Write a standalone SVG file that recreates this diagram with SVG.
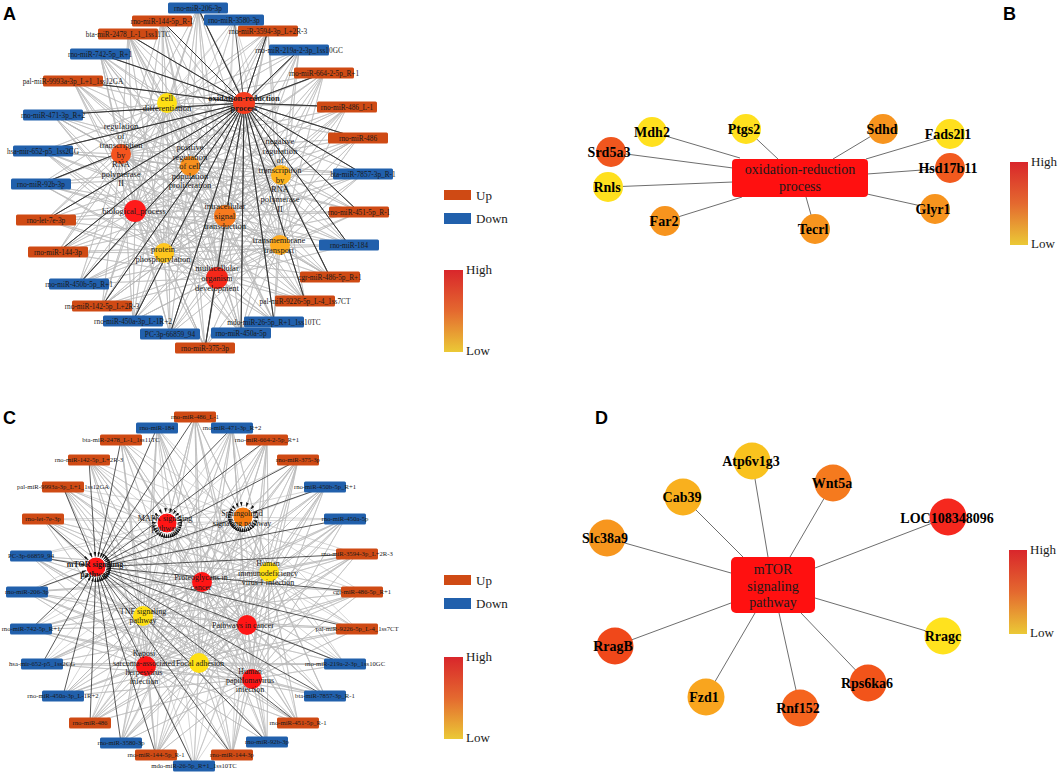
<svg xmlns="http://www.w3.org/2000/svg" width="1059" height="777" viewBox="0 0 1059 777">
<defs>
<linearGradient id="grad" x1="0" y1="0" x2="0" y2="1">
<stop offset="0" stop-color="#D9262B"/><stop offset=".5" stop-color="#E4692F"/><stop offset="1" stop-color="#EBC936"/>
</linearGradient>
<marker id="arr" viewBox="0 0 15 2.6" markerWidth="15" markerHeight="2.6" refX="15" refY="1.3" orient="auto" markerUnits="userSpaceOnUse"><path d="M0 0L4.5 1.3L0 2.6z" fill="#111"/></marker>
</defs>
<style>
text{font-family:"Liberation Serif","Times New Roman",serif;fill:#1a1a1a}
.lt{font-family:"Liberation Sans",Arial,sans-serif;font-weight:bold;font-size:18px;fill:#000}
.up{fill:#CF4A14}.dn{fill:#2160AC}
.ma text{font-size:7.3px;text-anchor:middle}
.mc text{font-size:6.7px;text-anchor:middle}
.ga text{font-size:8.5px;text-anchor:middle}
.gc text{font-size:8px;text-anchor:middle}
.gl{fill:none;stroke:#B8B8B8;stroke-width:.6;stroke-linejoin:round}
.dl{fill:none;stroke:#2d2d2d;stroke-width:.8;stroke-linejoin:round}
.ak{fill:none;stroke:#2d2d2d;stroke-width:.8;marker-end:url(#arr)}
.ag{fill:none;stroke:#B8B8B8;stroke-width:.6;marker-end:url(#arr)}
.ge{fill:none;stroke:#6e6e6e;stroke-width:1}
.gn text{font-weight:bold;font-size:14px;text-anchor:middle;fill:#000}
.lg{font-size:13px}
</style>
<rect width="1059" height="777" fill="#fff"/>
<text class="lt" x="3" y="20">A</text>
<text class="lt" x="1003" y="20">B</text>
<text class="lt" x="3" y="424">C</text>
<text class="lt" x="595" y="424">D</text>

<g id="connectors">
<!-- Panel A gray mesh -->
<path class="gl" d="M167 103L198 8 167 103 162 21 167 103 128 34 167 103 100 54 167 103 73 81 167 103 53 115 167 103 43 151 167 103 41 184 167 103 46 220 167 103 58 252 167 103 79 284 167 103 102 306 167 103 133 321 167 103 170 334 167 103 205 348 167 103 241 333 167 103 274 322 167 103 305 301 167 103 330 277 167 103 349 245 167 103 359 212 167 103 363 174 167 103 358 138 167 103 347 107 167 103 324 73 167 103 299 50 167 103 268 31 167 103 234 20"/>
<path class="gl" d="M121 154L198 8 121 154 162 21 121 154 128 34 121 154 100 54 121 154 73 81 121 154 53 115 121 154 43 151 121 154 41 184 121 154 46 220 121 154 58 252 121 154 79 284 121 154 102 306 121 154 133 321 121 154 170 334 121 154 205 348 121 154 241 333 121 154 274 322 121 154 305 301 121 154 330 277 121 154 349 245 121 154 359 212 121 154 363 174 121 154 358 138 121 154 347 107 121 154 324 73 121 154 299 50 121 154 268 31 121 154 234 20"/>
<path class="gl" d="M190 166L198 8 190 166 162 21 190 166 128 34 190 166 100 54 190 166 73 81 190 166 53 115 190 166 43 151 190 166 41 184 190 166 46 220 190 166 58 252 190 166 79 284 190 166 102 306 190 166 133 321 190 166 170 334 190 166 205 348 190 166 241 333 190 166 274 322 190 166 305 301 190 166 330 277 190 166 349 245 190 166 359 212 190 166 363 174 190 166 358 138 190 166 347 107 190 166 324 73 190 166 299 50 190 166 268 31 190 166 234 20"/>
<path class="gl" d="M135 211L198 8 135 211 162 21 135 211 128 34 135 211 100 54 135 211 73 81 135 211 53 115 135 211 43 151 135 211 41 184 135 211 46 220 135 211 58 252 135 211 79 284 135 211 102 306 135 211 133 321 135 211 170 334 135 211 205 348 135 211 241 333 135 211 274 322 135 211 305 301 135 211 330 277 135 211 349 245 135 211 359 212 135 211 363 174 135 211 358 138 135 211 347 107 135 211 324 73 135 211 299 50 135 211 268 31 135 211 234 20"/>
<path class="gl" d="M164 253L198 8 164 253 162 21 164 253 128 34 164 253 100 54 164 253 73 81 164 253 53 115 164 253 43 151 164 253 41 184 164 253 46 220 164 253 58 252 164 253 79 284 164 253 102 306 164 253 133 321 164 253 170 334 164 253 205 348 164 253 241 333 164 253 274 322 164 253 305 301 164 253 330 277 164 253 349 245 164 253 359 212 164 253 363 174 164 253 358 138 164 253 347 107 164 253 324 73 164 253 299 50 164 253 268 31 164 253 234 20"/>
<path class="gl" d="M225 216L198 8 225 216 162 21 225 216 128 34 225 216 100 54 225 216 73 81 225 216 53 115 225 216 43 151 225 216 41 184 225 216 46 220 225 216 58 252 225 216 79 284 225 216 102 306 225 216 133 321 225 216 170 334 225 216 205 348 225 216 241 333 225 216 274 322 225 216 305 301 225 216 330 277 225 216 349 245 225 216 359 212 225 216 363 174 225 216 358 138 225 216 347 107 225 216 324 73 225 216 299 50 225 216 268 31 225 216 234 20"/>
<path class="gl" d="M217 278L198 8 217 278 162 21 217 278 128 34 217 278 100 54 217 278 73 81 217 278 53 115 217 278 43 151 217 278 41 184 217 278 46 220 217 278 58 252 217 278 79 284 217 278 102 306 217 278 133 321 217 278 170 334 217 278 205 348 217 278 241 333 217 278 274 322 217 278 305 301 217 278 330 277 217 278 349 245 217 278 359 212 217 278 363 174 217 278 358 138 217 278 347 107 217 278 324 73 217 278 299 50 217 278 268 31 217 278 234 20"/>
<path class="gl" d="M280 245L198 8 280 245 162 21 280 245 128 34 280 245 100 54 280 245 73 81 280 245 53 115 280 245 43 151 280 245 41 184 280 245 46 220 280 245 58 252 280 245 79 284 280 245 102 306 280 245 133 321 280 245 170 334 280 245 205 348 280 245 241 333 280 245 274 322 280 245 305 301 280 245 330 277 280 245 349 245 280 245 359 212 280 245 363 174 280 245 358 138 280 245 347 107 280 245 324 73 280 245 299 50 280 245 268 31 280 245 234 20"/>
<path class="gl" d="M281 175L198 8 281 175 162 21 281 175 128 34 281 175 100 54 281 175 73 81 281 175 53 115 281 175 43 151 281 175 41 184 281 175 46 220 281 175 58 252 281 175 79 284 281 175 102 306 281 175 133 321 281 175 170 334 281 175 205 348 281 175 241 333 281 175 274 322 281 175 305 301 281 175 330 277 281 175 349 245 281 175 359 212 281 175 363 174 281 175 358 138 281 175 347 107 281 175 324 73 281 175 299 50 281 175 268 31 281 175 234 20"/>
<!-- Panel A dark edges to oxidation-reduction process -->
<path class="dl" d="M244 103L198 8 244 103 162 21 244 103 128 34 244 103 100 54 244 103 73 81 244 103 53 115 244 103 43 151 244 103 41 184 244 103 46 220 244 103 58 252 244 103 79 284 244 103 102 306 244 103 133 321 244 103 170 334 244 103 205 348 244 103 241 333 244 103 274 322 244 103 305 301 244 103 330 277 244 103 349 245 244 103 359 212 244 103 363 174 244 103 358 138 244 103 347 107 244 103 324 73 244 103 299 50 244 103 268 31 244 103 234 20"/>
<!-- Panel C gray mesh -->
<path class="gl" d="M202 582L195 417 202 582 157 428 202 582 232 428 202 582 121 440 202 582 267 440 202 582 89 460 202 582 298 460 202 582 63 487 202 582 325 487 202 582 43 519 202 582 345 519 202 582 31 556 202 582 357 554 202 582 27 592 202 582 362 592 202 582 31 629 202 582 357 629 202 582 42 664 202 582 345 664 202 582 63 696 202 582 325 696 202 582 90 723 202 582 298 723 202 582 121 743 202 582 267 742 202 582 156 755 202 582 232 755 202 582 194 766"/>
<path class="gl" d="M269 572L195 417 269 572 157 428 269 572 232 428 269 572 121 440 269 572 267 440 269 572 89 460 269 572 298 460 269 572 63 487 269 572 325 487 269 572 43 519 269 572 345 519 269 572 31 556 269 572 357 554 269 572 27 592 269 572 362 592 269 572 31 629 269 572 357 629 269 572 42 664 269 572 345 664 269 572 63 696 269 572 325 696 269 572 90 723 269 572 298 723 269 572 121 743 269 572 267 742 269 572 156 755 269 572 232 755 269 572 194 766"/>
<path class="gl" d="M143 616L195 417 143 616 157 428 143 616 232 428 143 616 121 440 143 616 267 440 143 616 89 460 143 616 298 460 143 616 63 487 143 616 325 487 143 616 43 519 143 616 345 519 143 616 31 556 143 616 357 554 143 616 27 592 143 616 362 592 143 616 31 629 143 616 357 629 143 616 42 664 143 616 345 664 143 616 63 696 143 616 325 696 143 616 90 723 143 616 298 723 143 616 121 743 143 616 267 742 143 616 156 755 143 616 232 755 143 616 194 766"/>
<path class="gl" d="M247 625L195 417 247 625 157 428 247 625 232 428 247 625 121 440 247 625 267 440 247 625 89 460 247 625 298 460 247 625 63 487 247 625 325 487 247 625 43 519 247 625 345 519 247 625 31 556 247 625 357 554 247 625 27 592 247 625 362 592 247 625 31 629 247 625 357 629 247 625 42 664 247 625 345 664 247 625 63 696 247 625 325 696 247 625 90 723 247 625 298 723 247 625 121 743 247 625 267 742 247 625 156 755 247 625 232 755 247 625 194 766"/>
<path class="gl" d="M146 666L195 417 146 666 157 428 146 666 232 428 146 666 121 440 146 666 267 440 146 666 89 460 146 666 298 460 146 666 63 487 146 666 325 487 146 666 43 519 146 666 345 519 146 666 31 556 146 666 357 554 146 666 27 592 146 666 362 592 146 666 31 629 146 666 357 629 146 666 42 664 146 666 345 664 146 666 63 696 146 666 325 696 146 666 90 723 146 666 298 723 146 666 121 743 146 666 267 742 146 666 156 755 146 666 232 755 146 666 194 766"/>
<path class="gl" d="M199 663L195 417 199 663 157 428 199 663 232 428 199 663 121 440 199 663 267 440 199 663 89 460 199 663 298 460 199 663 63 487 199 663 325 487 199 663 43 519 199 663 345 519 199 663 31 556 199 663 357 554 199 663 27 592 199 663 362 592 199 663 31 629 199 663 357 629 199 663 42 664 199 663 345 664 199 663 63 696 199 663 325 696 199 663 90 723 199 663 298 723 199 663 121 743 199 663 267 742 199 663 156 755 199 663 232 755 199 663 194 766"/>
<path class="gl" d="M252 679L195 417 252 679 157 428 252 679 232 428 252 679 121 440 252 679 267 440 252 679 89 460 252 679 298 460 252 679 63 487 252 679 325 487 252 679 43 519 252 679 345 519 252 679 31 556 252 679 357 554 252 679 27 592 252 679 362 592 252 679 31 629 252 679 357 629 252 679 42 664 252 679 345 664 252 679 63 696 252 679 325 696 252 679 90 723 252 679 298 723 252 679 121 743 252 679 267 742 252 679 156 755 252 679 232 755 252 679 194 766"/>
<!-- Panel C arrowed gray edges to MAPK -->
<g class="ag">
<path d="M195 417L167 523"/><path d="M157 428L167 523"/><path d="M232 428L167 523"/><path d="M121 440L167 523"/><path d="M267 440L167 523"/><path d="M89 460L167 523"/><path d="M298 460L167 523"/><path d="M63 487L167 523"/><path d="M325 487L167 523"/><path d="M43 519L167 523"/><path d="M345 519L167 523"/><path d="M31 556L167 523"/><path d="M357 554L167 523"/><path d="M27 592L167 523"/><path d="M362 592L167 523"/><path d="M31 629L167 523"/><path d="M357 629L167 523"/><path d="M42 664L167 523"/><path d="M345 664L167 523"/><path d="M63 696L167 523"/><path d="M325 696L167 523"/><path d="M90 723L167 523"/><path d="M298 723L167 523"/><path d="M121 743L167 523"/><path d="M267 742L167 523"/><path d="M156 755L167 523"/><path d="M232 755L167 523"/><path d="M194 766L167 523"/>
</g>
<!-- Panel C arrowed gray edges to Sphingolipid -->
<g class="ag">
<path d="M195 417L243 517"/><path d="M157 428L243 517"/><path d="M232 428L243 517"/><path d="M121 440L243 517"/><path d="M267 440L243 517"/><path d="M89 460L243 517"/><path d="M298 460L243 517"/><path d="M63 487L243 517"/><path d="M325 487L243 517"/><path d="M43 519L243 517"/><path d="M345 519L243 517"/><path d="M31 556L243 517"/><path d="M357 554L243 517"/><path d="M27 592L243 517"/><path d="M362 592L243 517"/><path d="M31 629L243 517"/><path d="M357 629L243 517"/><path d="M42 664L243 517"/><path d="M345 664L243 517"/><path d="M63 696L243 517"/><path d="M325 696L243 517"/><path d="M90 723L243 517"/><path d="M298 723L243 517"/><path d="M121 743L243 517"/><path d="M267 742L243 517"/><path d="M156 755L243 517"/><path d="M232 755L243 517"/><path d="M194 766L243 517"/>
</g>
<!-- Panel C dark arrowed edges to mTOR -->
<g class="ak">
<path d="M195 417L96 567"/><path d="M157 428L96 567"/><path d="M232 428L96 567"/><path d="M121 440L96 567"/><path d="M267 440L96 567"/><path d="M89 460L96 567"/><path d="M298 460L96 567"/><path d="M63 487L96 567"/><path d="M325 487L96 567"/><path d="M43 519L96 567"/><path d="M345 519L96 567"/><path d="M31 556L96 567"/><path d="M357 554L96 567"/><path d="M27 592L96 567"/><path d="M362 592L96 567"/><path d="M31 629L96 567"/><path d="M357 629L96 567"/><path d="M42 664L96 567"/><path d="M345 664L96 567"/><path d="M63 696L96 567"/><path d="M325 696L96 567"/><path d="M90 723L96 567"/><path d="M298 723L96 567"/><path d="M121 743L96 567"/><path d="M267 742L96 567"/><path d="M156 755L96 567"/><path d="M232 755L96 567"/><path d="M194 766L96 567"/>
</g>
<!-- Panel B edges -->
<path class="ge" d="M652 132L740 158M611 152L733 168M608 187L733 182M665 221L742 197M746 129L778 159M815 229L806 197M883 129L833 159M950 134L866 159M950 168L867 174M935 209L867 194"/>
<!-- Panel D edges -->
<path class="ge" d="M752 461L768 557M833 483L790 557M683 497L743 557M948 517L815 568M607 538L731 573M615 646L731 603M706 697L755 613M800 708L779 613M868 683L801 613M943 636L815 598"/>
</g>

<!-- Panel A miRNA nodes -->
<g id="a-m1" class="ma" transform="translate(198 8)"><rect class="dn" x="-30" y="-5.5" width="60" height="11" rx="1.5"/><text y="2.5">rno-miR-206-3p</text></g>
<g id="a-m2" class="ma" transform="translate(162 21)"><rect class="up" x="-30" y="-5.5" width="60" height="11" rx="1.5"/><text y="2.5">rno-miR-144-5p_R-1</text></g>
<g id="a-m3" class="ma" transform="translate(128 34)"><rect class="up" x="-30" y="-5.5" width="60" height="11" rx="1.5"/><text y="2.5">bta-miR-2478_L-1_1ss11TC</text></g>
<g id="a-m4" class="ma" transform="translate(100 54)"><rect class="dn" x="-30" y="-5.5" width="60" height="11" rx="1.5"/><text y="2.5">rno-miR-742-5p_R+1</text></g>
<g id="a-m5" class="ma" transform="translate(73 81)"><rect class="up" x="-30" y="-5.5" width="60" height="11" rx="1.5"/><text y="2.5">pal-miR-9993a-3p_L+1_1ss12GA</text></g>
<g id="a-m6" class="ma" transform="translate(53 115)"><rect class="dn" x="-30" y="-5.5" width="60" height="11" rx="1.5"/><text y="2.5">rno-miR-471-3p_R+2</text></g>
<g id="a-m7" class="ma" transform="translate(43 151)"><rect class="dn" x="-30" y="-5.5" width="60" height="11" rx="1.5"/><text y="2.5">hsa-mir-652-p5_1ss2CG</text></g>
<g id="a-m8" class="ma" transform="translate(41 184)"><rect class="dn" x="-30" y="-5.5" width="60" height="11" rx="1.5"/><text y="2.5">rno-miR-92b-3p</text></g>
<g id="a-m9" class="ma" transform="translate(46 220)"><rect class="up" x="-30" y="-5.5" width="60" height="11" rx="1.5"/><text y="2.5">rno-let-7e-3p</text></g>
<g id="a-m10" class="ma" transform="translate(58 252)"><rect class="up" x="-30" y="-5.5" width="60" height="11" rx="1.5"/><text y="2.5">rno-miR-144-3p</text></g>
<g id="a-m11" class="ma" transform="translate(79 284)"><rect class="dn" x="-30" y="-5.5" width="60" height="11" rx="1.5"/><text y="2.5">rno-miR-450b-5p_R+1</text></g>
<g id="a-m12" class="ma" transform="translate(102 306)"><rect class="up" x="-30" y="-5.5" width="60" height="11" rx="1.5"/><text y="2.5">rno-miR-142-5p_L+2R-3</text></g>
<g id="a-m13" class="ma" transform="translate(133 321)"><rect class="dn" x="-30" y="-5.5" width="60" height="11" rx="1.5"/><text y="2.5">rno-miR-450a-3p_L-1R+2</text></g>
<g id="a-m14" class="ma" transform="translate(170 334)"><rect class="dn" x="-30" y="-5.5" width="60" height="11" rx="1.5"/><text y="2.5">PC-3p-66859_94</text></g>
<g id="a-m15" class="ma" transform="translate(205 348)"><rect class="up" x="-30" y="-5.5" width="60" height="11" rx="1.5"/><text y="2.5">rno-miR-375-3p</text></g>
<g id="a-m16" class="ma" transform="translate(241 333)"><rect class="dn" x="-30" y="-5.5" width="60" height="11" rx="1.5"/><text y="2.5">rno-miR-450a-5p</text></g>
<g id="a-m17" class="ma" transform="translate(274 322)"><rect class="dn" x="-30" y="-5.5" width="60" height="11" rx="1.5"/><text y="2.5">mdo-miR-26-5p_R+1_1ss10TC</text></g>
<g id="a-m18" class="ma" transform="translate(305 301)"><rect class="up" x="-30" y="-5.5" width="60" height="11" rx="1.5"/><text y="2.5">pal-miR-9226-5p_L-4_1ss7CT</text></g>
<g id="a-m19" class="ma" transform="translate(330 277)"><rect class="up" x="-30" y="-5.5" width="60" height="11" rx="1.5"/><text y="2.5">cgr-miR-486-5p_R+1</text></g>
<g id="a-m20" class="ma" transform="translate(349 245)"><rect class="dn" x="-30" y="-5.5" width="60" height="11" rx="1.5"/><text y="2.5">rno-miR-184</text></g>
<g id="a-m21" class="ma" transform="translate(359 212)"><rect class="up" x="-30" y="-5.5" width="60" height="11" rx="1.5"/><text y="2.5">rno-miR-451-5p_R-1</text></g>
<g id="a-m22" class="ma" transform="translate(363 174)"><rect class="dn" x="-30" y="-5.5" width="60" height="11" rx="1.5"/><text y="2.5">bta-miR-7857-3p_R-1</text></g>
<g id="a-m23" class="ma" transform="translate(358 138)"><rect class="up" x="-30" y="-5.5" width="60" height="11" rx="1.5"/><text y="2.5">rno-miR-486</text></g>
<g id="a-m24" class="ma" transform="translate(347 107)"><rect class="up" x="-30" y="-5.5" width="60" height="11" rx="1.5"/><text y="2.5">rno-miR-486_L-1</text></g>
<g id="a-m25" class="ma" transform="translate(324 73)"><rect class="up" x="-30" y="-5.5" width="60" height="11" rx="1.5"/><text y="2.5">rno-miR-664-2-5p_R+1</text></g>
<g id="a-m26" class="ma" transform="translate(299 50)"><rect class="dn" x="-30" y="-5.5" width="60" height="11" rx="1.5"/><text y="2.5">rno-miR-219a-2-3p_1ss10GC</text></g>
<g id="a-m27" class="ma" transform="translate(268 31)"><rect class="up" x="-30" y="-5.5" width="60" height="11" rx="1.5"/><text y="2.5">rno-miR-3594-3p_L+2R-3</text></g>
<g id="a-m28" class="ma" transform="translate(234 20)"><rect class="dn" x="-30" y="-5.5" width="60" height="11" rx="1.5"/><text y="2.5">rno-miR-3580-3p</text></g>

<!-- Panel A GO term nodes -->
<g id="a-cd" class="ga"><circle cx="167" cy="103" r="10" fill="#FFE014"/><text x="167" y="101">cell</text><text x="167" y="110.5">differentiation</text></g>
<g id="a-ox" class="ga"><circle cx="244" cy="103" r="11" fill="#F53C1E"/><text x="244" y="101" font-weight="bold">oxidation-reduction</text><text x="244" y="111" font-weight="bold">process</text></g>
<g id="a-reg" class="ga"><circle cx="121" cy="154" r="10" fill="#F4541E"/><text x="121" y="129">regulation</text><text x="121" y="138.5">of</text><text x="121" y="148">transcription</text><text x="121" y="158">by</text><text x="121" y="167">RNA</text><text x="121" y="177">polymerase</text><text x="121" y="186">II</text></g>
<g id="a-pos" class="ga"><circle cx="190" cy="166" r="10" fill="#F7901E"/><text x="190" y="150">positive</text><text x="190" y="159.5">regulation</text><text x="190" y="169">of cell</text><text x="190" y="179">population</text><text x="190" y="188">proliferation</text></g>
<g id="a-bio" class="ga"><circle cx="135" cy="211" r="11" fill="#FF1A1A"/><text x="134" y="214">biological_process</text></g>
<g id="a-prot" class="ga"><circle cx="164" cy="253" r="10" fill="#FFC61E"/><text x="163" y="252">protein</text><text x="163" y="262">phosphorylation</text></g>
<g id="a-intra" class="ga"><circle cx="225" cy="216" r="11" fill="#F77A1E"/><text x="225" y="209">intracellular</text><text x="225" y="219">signal</text><text x="225" y="228.5">transduction</text></g>
<g id="a-multi" class="ga"><circle cx="217" cy="278" r="11" fill="#F5281A"/><text x="217" y="271">multicellular</text><text x="217" y="281">organism</text><text x="217" y="291">development</text></g>
<g id="a-trans" class="ga"><circle cx="280" cy="245" r="10" fill="#FDAA1E"/><text x="279" y="243">transmembrane</text><text x="279" y="252.5">transport</text></g>
<g id="a-neg" class="ga"><circle cx="281" cy="175" r="10" fill="#FDB41E"/><text x="280" y="144">negative</text><text x="280" y="154">regulation</text><text x="280" y="163">of</text><text x="280" y="173">transcription</text><text x="280" y="183">by</text><text x="280" y="192">RNA</text><text x="280" y="202">polymerase</text><text x="280" y="212">II</text></g>

<!-- Panel A legend -->
<g id="a-legend">
<rect class="up" x="444" y="190" width="27" height="10"/><text class="lg" x="476" y="199.5">Up</text>
<rect class="dn" x="444" y="213" width="27" height="11"/><text class="lg" x="476" y="223">Down</text>
<rect x="444" y="270" width="19" height="82" fill="url(#grad)"/><text class="lg" x="466" y="273.5">High</text><text class="lg" x="466" y="355">Low</text>
</g>

<!-- Panel C miRNA nodes -->
<g id="c-m1" class="mc" transform="translate(195 417)"><rect class="up" x="-21" y="-5.5" width="42" height="11" rx="1.5"/><text y="2.3">rno-miR-486_L-1</text></g>
<g id="c-m2" class="mc" transform="translate(157 428)"><rect class="dn" x="-21" y="-5.5" width="42" height="11" rx="1.5"/><text y="2.3">rno-miR-184</text></g>
<g id="c-m3" class="mc" transform="translate(232 428)"><rect class="dn" x="-21" y="-5.5" width="42" height="11" rx="1.5"/><text y="2.3">rno-miR-471-3p_R+2</text></g>
<g id="c-m4" class="mc" transform="translate(121 440)"><rect class="up" x="-21" y="-5.5" width="42" height="11" rx="1.5"/><text y="2.3">bta-miR-2478_L-1_1ss11TC</text></g>
<g id="c-m5" class="mc" transform="translate(267 440)"><rect class="up" x="-21" y="-5.5" width="42" height="11" rx="1.5"/><text y="2.3">rno-miR-664-2-5p_R+1</text></g>
<g id="c-m6" class="mc" transform="translate(89 460)"><rect class="up" x="-21" y="-5.5" width="42" height="11" rx="1.5"/><text y="2.3">rno-miR-142-5p_L+2R-3</text></g>
<g id="c-m7" class="mc" transform="translate(298 460)"><rect class="up" x="-21" y="-5.5" width="42" height="11" rx="1.5"/><text y="2.3">rno-miR-375-3p</text></g>
<g id="c-m8" class="mc" transform="translate(63 487)"><rect class="up" x="-21" y="-5.5" width="42" height="11" rx="1.5"/><text y="2.3">pal-miR-9993a-3p_L+1_1ss12GA</text></g>
<g id="c-m9" class="mc" transform="translate(325 487)"><rect class="dn" x="-21" y="-5.5" width="42" height="11" rx="1.5"/><text y="2.3">rno-miR-450b-5p_R+1</text></g>
<g id="c-m10" class="mc" transform="translate(43 519)"><rect class="up" x="-21" y="-5.5" width="42" height="11" rx="1.5"/><text y="2.3">rno-let-7e-3p</text></g>
<g id="c-m11" class="mc" transform="translate(345 519)"><rect class="dn" x="-21" y="-5.5" width="42" height="11" rx="1.5"/><text y="2.3">rno-miR-450a-5p</text></g>
<g id="c-m12" class="mc" transform="translate(31 556)"><rect class="dn" x="-21" y="-5.5" width="42" height="11" rx="1.5"/><text y="2.3">PC-3p-66859_94</text></g>
<g id="c-m13" class="mc" transform="translate(357 554)"><rect class="up" x="-21" y="-5.5" width="42" height="11" rx="1.5"/><text y="2.3">rno-miR-3594-3p_L+2R-3</text></g>
<g id="c-m14" class="mc" transform="translate(27 592)"><rect class="dn" x="-21" y="-5.5" width="42" height="11" rx="1.5"/><text y="2.3">rno-miR-206-3p</text></g>
<g id="c-m15" class="mc" transform="translate(362 592)"><rect class="up" x="-21" y="-5.5" width="42" height="11" rx="1.5"/><text y="2.3">cgr-miR-486-5p_R+1</text></g>
<g id="c-m16" class="mc" transform="translate(31 629)"><rect class="dn" x="-21" y="-5.5" width="42" height="11" rx="1.5"/><text y="2.3">rno-miR-742-5p_R+1</text></g>
<g id="c-m17" class="mc" transform="translate(357 629)"><rect class="up" x="-21" y="-5.5" width="42" height="11" rx="1.5"/><text y="2.3">pal-miR-9226-5p_L-4_1ss7CT</text></g>
<g id="c-m18" class="mc" transform="translate(42 664)"><rect class="dn" x="-21" y="-5.5" width="42" height="11" rx="1.5"/><text y="2.3">hsa-mir-652-p5_1ss2CG</text></g>
<g id="c-m19" class="mc" transform="translate(345 664)"><rect class="dn" x="-21" y="-5.5" width="42" height="11" rx="1.5"/><text y="2.3">rno-miR-219a-2-3p_1ss10GC</text></g>
<g id="c-m20" class="mc" transform="translate(63 696)"><rect class="dn" x="-21" y="-5.5" width="42" height="11" rx="1.5"/><text y="2.3">rno-miR-450a-3p_L-1R+2</text></g>
<g id="c-m21" class="mc" transform="translate(325 696)"><rect class="dn" x="-21" y="-5.5" width="42" height="11" rx="1.5"/><text y="2.3">bta-miR-7857-3p_R-1</text></g>
<g id="c-m22" class="mc" transform="translate(90 723)"><rect class="up" x="-21" y="-5.5" width="42" height="11" rx="1.5"/><text y="2.3">rno-miR-486</text></g>
<g id="c-m23" class="mc" transform="translate(298 723)"><rect class="up" x="-21" y="-5.5" width="42" height="11" rx="1.5"/><text y="2.3">rno-miR-451-5p_R-1</text></g>
<g id="c-m24" class="mc" transform="translate(121 743)"><rect class="dn" x="-21" y="-5.5" width="42" height="11" rx="1.5"/><text y="2.3">rno-miR-3580-3p</text></g>
<g id="c-m25" class="mc" transform="translate(267 742)"><rect class="dn" x="-21" y="-5.5" width="42" height="11" rx="1.5"/><text y="2.3">rno-miR-92b-3p</text></g>
<g id="c-m26" class="mc" transform="translate(156 755)"><rect class="up" x="-21" y="-5.5" width="42" height="11" rx="1.5"/><text y="2.3">rno-miR-144-5p_R-1</text></g>
<g id="c-m27" class="mc" transform="translate(232 755)"><rect class="up" x="-21" y="-5.5" width="42" height="11" rx="1.5"/><text y="2.3">rno-miR-144-3p</text></g>
<g id="c-m28" class="mc" transform="translate(194 766)"><rect class="dn" x="-21" y="-5.5" width="42" height="11" rx="1.5"/><text y="2.3">mdo-miR-26-5p_R+1_1ss10TC</text></g>

<!-- Panel C pathway nodes -->
<g id="c-mtor" class="gc"><circle cx="96" cy="567" r="10" fill="#FF1515" stroke="#fff" stroke-width="1"/><text x="95" y="567" font-weight="bold">mTOR signaling</text><text x="95" y="576.5" font-weight="bold">pathway</text></g>
<g id="c-mapk" class="gc"><circle cx="167" cy="523" r="10" fill="#FF1515" stroke="#fff" stroke-width="1"/><text x="165" y="521">MAPK signaling</text><text x="165" y="531">pathway</text></g>
<g id="c-sph" class="gc"><circle cx="243" cy="517" r="10" fill="#F57A10" stroke="#fff" stroke-width="1"/><text x="242" y="516">Sphingolipid</text><text x="242" y="526">signaling pathway</text></g>
<g id="c-prot" class="gc"><circle cx="202" cy="582" r="10" fill="#FF1515"/><text x="201" y="580">Proteoglycans in</text><text x="201" y="590">cancer</text></g>
<g id="c-hiv" class="gc"><circle cx="269" cy="572" r="10" fill="#FFE014"/><text x="268" y="566">Human</text><text x="268" y="576">immunodeficiency</text><text x="268" y="585">virus 1 infection</text></g>
<g id="c-tnf" class="gc"><circle cx="143" cy="616" r="10" fill="#FFE014"/><text x="143" y="614">TNF signaling</text><text x="143" y="623">pathway</text></g>
<g id="c-pic" class="gc"><circle cx="247" cy="625" r="10" fill="#FF1515"/><text x="243" y="628">Pathways in cancer</text></g>
<g id="c-kap" class="gc"><circle cx="146" cy="666" r="10" fill="#FF1515"/><text x="144" y="656">Kaposi</text><text x="144" y="666">sarcoma-associated</text><text x="144" y="675">herpesvirus</text><text x="144" y="683.5">infection</text></g>
<g id="c-foc" class="gc"><circle cx="199" cy="663" r="10" fill="#FFE014"/><text x="200" y="666">Focal adhesion</text></g>
<g id="c-hpv" class="gc"><circle cx="252" cy="679" r="10" fill="#FF1515"/><text x="250" y="674">Human</text><text x="250" y="683">papillomavirus</text><text x="250" y="692">infection</text></g>

<!-- Panel C legend -->
<g id="c-legend">
<rect class="up" x="444" y="575" width="27" height="10"/><text class="lg" x="476" y="584.5">Up</text>
<rect class="dn" x="444" y="598" width="27" height="11"/><text class="lg" x="476" y="608">Down</text>
<rect x="444" y="657" width="19" height="82" fill="url(#grad)"/><text class="lg" x="466" y="660.5">High</text><text class="lg" x="466" y="742">Low</text>
</g>

<!-- Panel B -->
<g id="b-center"><rect x="732" y="159" width="136" height="38" rx="4" fill="#FF1010"/><text x="800" y="174" font-size="14" text-anchor="middle">oxidation-reduction</text><text x="800" y="191" font-size="14" text-anchor="middle">process</text></g>
<g id="b-mdh2" class="gn"><circle cx="652" cy="132" r="15" fill="#FFE01E"/><text x="652" y="137">Mdh2</text></g>
<g id="b-srd5a3" class="gn"><circle cx="611" cy="152" r="15" fill="#F0561E"/><text x="609" y="157">Srd5a3</text></g>
<g id="b-rnls" class="gn"><circle cx="608" cy="187" r="15" fill="#FFE01E"/><text x="607" y="192">Rnls</text></g>
<g id="b-far2" class="gn"><circle cx="665" cy="221" r="15" fill="#F7941E"/><text x="664" y="226">Far2</text></g>
<g id="b-ptgs2" class="gn"><circle cx="746" cy="129" r="15" fill="#FFE01E"/><text x="744" y="134">Ptgs2</text></g>
<g id="b-tecrl" class="gn"><circle cx="815" cy="229" r="15" fill="#F7941E"/><text x="813" y="234">Tecrl</text></g>
<g id="b-sdhd" class="gn"><circle cx="883" cy="129" r="15" fill="#F7941E"/><text x="882" y="134">Sdhd</text></g>
<g id="b-fads2l1" class="gn"><circle cx="950" cy="134" r="15" fill="#FFE01E"/><text x="948" y="139">Fads2l1</text></g>
<g id="b-hsd17b11" class="gn"><circle cx="950" cy="168" r="15" fill="#F25A1E"/><text x="948" y="173">Hsd17b11</text></g>
<g id="b-glyr1" class="gn"><circle cx="935" cy="209" r="15" fill="#F7941E"/><text x="933" y="214">Glyr1</text></g>
<g id="b-legend"><rect x="1010" y="162" width="18" height="83" fill="url(#grad)"/><text class="lg" x="1031" y="166">High</text><text class="lg" x="1031" y="248">Low</text></g>

<!-- Panel D -->
<g id="d-center"><rect x="731" y="557" width="84" height="56" rx="5" fill="#FF1010"/><text x="773" y="574" font-size="14" text-anchor="middle">mTOR</text><text x="773" y="590.5" font-size="14" text-anchor="middle">signaling</text><text x="773" y="606.5" font-size="14" text-anchor="middle">pathway</text></g>
<g id="d-atp6v1g3" class="gn"><circle cx="752" cy="461" r="18.5" fill="#F9C21E"/><text x="751" y="466">Atp6v1g3</text></g>
<g id="d-wnt5a" class="gn"><circle cx="833" cy="483" r="18.5" fill="#F57A1E"/><text x="832" y="488">Wnt5a</text></g>
<g id="d-cab39" class="gn"><circle cx="683" cy="497" r="18.5" fill="#F9B01E"/><text x="682" y="502">Cab39</text></g>
<g id="d-loc" class="gn"><circle cx="948" cy="517" r="18.5" fill="#F5281E"/><text x="947" y="523">LOC108348096</text></g>
<g id="d-slc38a9" class="gn"><circle cx="607" cy="538" r="18.5" fill="#F7961E"/><text x="605" y="543">Slc38a9</text></g>
<g id="d-ragb" class="gn"><circle cx="615" cy="646" r="18.5" fill="#F0481A"/><text x="613" y="651">RragB</text></g>
<g id="d-fzd1" class="gn"><circle cx="706" cy="697" r="18.5" fill="#F9A51E"/><text x="704" y="702">Fzd1</text></g>
<g id="d-rnf152" class="gn"><circle cx="800" cy="708" r="18.5" fill="#F5641E"/><text x="798" y="713">Rnf152</text></g>
<g id="d-rps6ka6" class="gn"><circle cx="868" cy="683" r="18.5" fill="#F2541A"/><text x="867" y="688">Rps6ka6</text></g>
<g id="d-rragc" class="gn"><circle cx="943" cy="636" r="18.5" fill="#FFE21E"/><text x="943" y="641">Rragc</text></g>
<g id="d-legend"><rect x="1009" y="550" width="18" height="84" fill="url(#grad)"/><text class="lg" x="1030" y="554">High</text><text class="lg" x="1030" y="637">Low</text></g>
</svg>
